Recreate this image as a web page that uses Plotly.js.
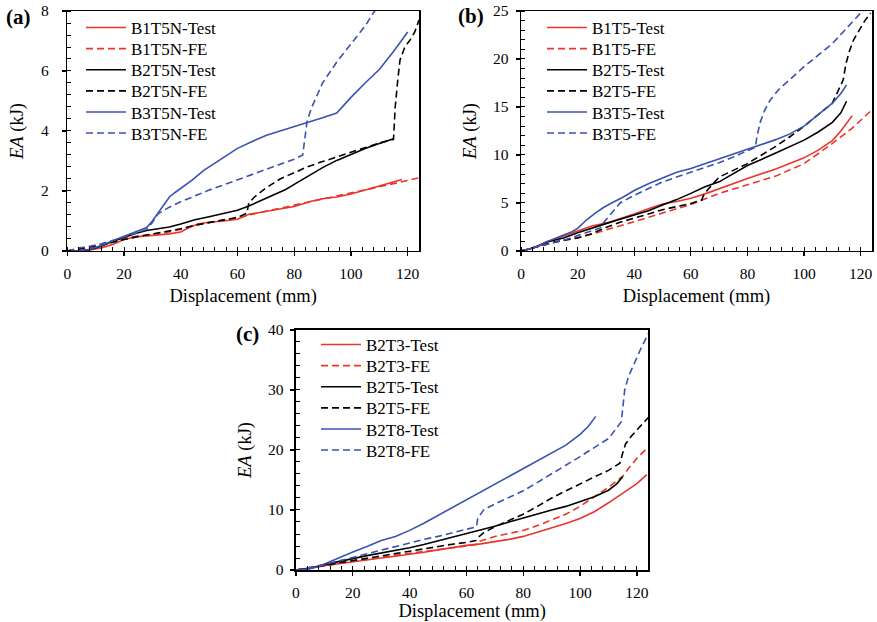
<!DOCTYPE html>
<html>
<head>
<meta charset="utf-8">
<script src="https://cdn.plot.ly/plotly-3.0.1.min.js"></script>
<style>html,body{margin:0;padding:0;background:#fff;}#chart{width:877px;height:622px;}</style>
</head>
<body>
<div id="chart"></div>
<script>
// ---------- Panel (a) ----------
const aB1T5N_Test_x = [0,4,8,12,16,20,24,28,32,36,40,43,46,50,55,60,64,70,75,80,86,90,95,100,105,110,115,118];
const aB1T5N_Test_y = [0,0,0.03,0.1,0.22,0.38,0.47,0.5,0.54,0.57,0.63,0.78,0.9,0.96,1.0,1.06,1.22,1.32,1.38,1.48,1.66,1.74,1.8,1.9,2.03,2.16,2.3,2.38];
const aB1T5N_FE_x = [0,4,8,12,16,20,25,30,35,40,45,50,55,60,64,70,80,90,100,110,120,124];
const aB1T5N_FE_y = [0,0.05,0.1,0.18,0.3,0.42,0.5,0.56,0.62,0.72,0.86,0.95,1.02,1.1,1.2,1.32,1.52,1.72,1.92,2.14,2.35,2.44];
const aB2T5N_Test_x = [0,4,8,12,16,20,24,28,32,36,40,45,50,55,60,64,70,77,80,85,90,95,100,105,110,115];
const aB2T5N_Test_y = [0,0,0.05,0.16,0.32,0.46,0.58,0.68,0.74,0.8,0.9,1.04,1.14,1.24,1.36,1.5,1.76,2.05,2.22,2.5,2.78,3.02,3.22,3.42,3.58,3.74];
const aB2T5N_FE_x = [0,4,8,12,16,20,25,30,35,40,45,50,55,60,63.3,64,66,70,75,80,85,90,95,100,105,110,115,115.6,116.5,117.3,119,120.8,122.5,124];
const aB2T5N_FE_y = [0,0.08,0.14,0.2,0.3,0.38,0.48,0.56,0.64,0.74,0.86,0.94,1.02,1.12,1.26,1.6,1.8,2.1,2.4,2.62,2.82,2.98,3.14,3.3,3.45,3.6,3.72,4.8,5.7,6.37,6.8,7.03,7.3,7.7];
const aB3T5N_Test_x = [0,4,8,12,16,20,24,28,30,32,34,36,38,40,44,48,52,56,60,65,70,75,80,85,90,95,100,105,110,115,120];
const aB3T5N_Test_y = [0,0,0.06,0.18,0.34,0.48,0.62,0.78,1.0,1.26,1.55,1.8,1.95,2.08,2.36,2.68,2.92,3.18,3.42,3.64,3.85,4.0,4.14,4.28,4.44,4.6,5.12,5.6,6.05,6.65,7.3];
const aB3T5N_FE_x = [0,4,8,12,16,20,24,28,30,32,36,40,45,50,55,60,65,70,75,80,83,83.8,84.5,86,90,95,100,105,108,110];
const aB3T5N_FE_y = [0,0.1,0.16,0.24,0.35,0.46,0.58,0.72,0.95,1.24,1.46,1.64,1.84,2.03,2.2,2.37,2.54,2.7,2.88,3.06,3.2,3.9,4.3,4.75,5.6,6.3,6.92,7.5,7.95,8.2];

// ---------- Panel (b) ----------
const bB1T5_Test_x = [0,3,6,9,12,15,20,25,30,35,40,45,50,55,60,65,70,80,90,100,105,110,113,115,117];
const bB1T5_Test_y = [0,0.2,0.55,0.95,1.25,1.55,2.1,2.6,2.9,3.35,3.85,4.4,4.9,5.15,5.5,5.95,6.5,7.55,8.55,9.7,10.5,11.5,12.5,13.3,14.1];
const bB1T5_FE_x = [0,4,8,12,16,20,25,30,35,40,45,50,55,60,64,70,80,90,100,110,117,124];
const bB1T5_FE_y = [0,0.3,0.6,0.95,1.2,1.4,1.75,2.2,2.6,3.05,3.5,3.95,4.4,4.85,5.3,6.0,6.9,7.8,9.1,11.2,12.8,14.7];
const bB2T5_Test_x = [0,3,6,9,12,15,20,25,30,35,40,45,50,55,60,65,70,80,90,100,105,110,113,115];
const bB2T5_Test_y = [0,0.2,0.5,0.9,1.15,1.35,1.9,2.4,2.85,3.3,3.75,4.2,4.8,5.35,6.0,6.7,7.2,8.9,10.2,11.55,12.4,13.4,14.4,15.6];
const bB2T5_FE_x = [0,4,8,12,16,20,25,30,35,40,45,50,55,60,63.8,64.5,66,70,75,80,85,90,95,100,105,110,113.8,114.8,116,117.5,119.5,121.5,123.5];
const bB2T5_FE_y = [0,0.3,0.6,0.95,1.15,1.35,1.8,2.45,3.0,3.4,3.85,4.3,4.6,4.95,5.3,5.8,6.4,7.7,8.4,9.1,10.0,10.9,11.9,13.0,14.2,15.4,17.8,19.5,20.8,22,23,24,24.8];
const bB3T5_Test_x = [0,3,6,9,12,15,18,20,23,26,29,32,36,40,45,50,55,60,65,70,75,80,85,90,95,100,105,110,113,115];
const bB3T5_Test_y = [0,0.2,0.5,0.95,1.3,1.65,2.0,2.35,3.2,3.9,4.5,5.0,5.6,6.3,7.0,7.6,8.2,8.6,9.1,9.6,10.1,10.65,11.15,11.6,12.2,13.0,14.2,15.4,16.4,17.3];
const bB3T5_FE_x = [0,4,8,12,16,20,24,28,29,31,35,40,45,50,55,60,65,70,75,80,82.8,83.4,84.5,86,88,91,95,100,105,110,115,120,123];
const bB3T5_FE_y = [0,0.3,0.6,0.9,1.2,1.6,2.0,2.4,2.9,3.6,5.0,5.8,6.5,7.2,7.7,8.2,8.7,9.2,9.8,10.4,10.8,12.0,13.4,14.6,15.7,16.8,17.9,19.2,20.4,21.6,23.2,24.8,25.6];

// ---------- Panel (c) ----------
const cB2T3_Test_x = [0,5,10,15,20,25,30,35,40,45,50,55,60,65,70,75,80,85,90,95,100,105,110,115,120,123.5];
const cB2T3_Test_y = [0,0.3,0.7,1.05,1.4,1.7,2.0,2.3,2.6,2.95,3.35,3.75,4.1,4.35,4.7,5.1,5.6,6.3,7.0,7.75,8.6,9.7,11.2,12.8,14.4,15.9];
const cB2T3_FE_x = [0,5,10,15,20,25,30,35,40,45,50,55,60,63.3,64,67,70,75,80,85,90,95,100,105,110,115,117,120,124];
const cB2T3_FE_y = [0,0.3,0.7,1.1,1.45,1.8,2.1,2.45,2.8,3.1,3.4,3.7,4.0,4.2,4.7,5.2,5.6,6.1,6.6,7.4,8.3,9.3,10.6,12.2,13.8,15.6,16.9,18.6,20.5];
const cB2T5_Test_x = [0,5,10,15,20,25,30,35,40,45,50,55,60,65,70,75,80,85,90,95,100,105,110,113,115];
const cB2T5_Test_y = [0,0.3,0.9,1.35,1.9,2.4,2.8,3.2,3.7,4.25,4.85,5.45,6.1,6.75,7.3,8.0,8.7,9.4,10.0,10.6,11.4,12.2,13.3,14.4,15.6];
const cB2T5_FE_x = [0,5,10,15,20,25,30,35,40,45,50,55,60,63.3,64,66,70,75,80,85,90,95,100,105,110,114,115,116,118,120,124];
const cB2T5_FE_y = [0,0.4,0.8,1.2,1.6,2.0,2.4,2.8,3.2,3.55,3.9,4.3,4.6,4.9,5.4,6.2,7.2,8.2,9.3,10.6,12.0,13.2,14.4,15.5,16.6,17.8,19.5,21.0,22.3,23.3,25.4];
const cB2T8_Test_x = [0,5,8,10,12,15,20,25,30,35,40,45,50,55,60,65,70,75,80,85,90,95,100,103,105.5];
const cB2T8_Test_y = [0,0.2,0.6,1.0,1.5,2.1,3.0,3.9,4.9,5.6,6.6,7.8,9.1,10.4,11.7,13.0,14.3,15.6,16.8,18.1,19.4,20.8,22.6,24.0,25.6];
const cB2T8_FE_x = [0,5,10,15,20,25,30,35,40,45,50,55,60,63.5,64,66,70,75,80,85,90,95,100,105,110,114.5,115,115.7,117,119,121,124];
const cB2T8_FE_y = [0,0.4,0.9,1.5,2.1,2.7,3.3,3.9,4.6,5.1,5.6,6.2,6.7,7.2,8.6,10.0,11.0,12.1,13.2,14.6,16.0,17.4,18.9,20.4,21.9,24.7,27.5,30.0,32.2,34.5,36.5,39.4];

const RED = '#e8362c', BLACK = '#000000', BLUE = '#3a52b0';
const DASH = '7px,4px';
const FONT = 'serif';

const W = 877, H = 622;
const panelLegendX = [81, 542, 316];
const panelLegendY0 = [28, 28, 345];
const ROW = 21.1;

let legendCount = 0;
const legends = {};
function tr(name, x, y, color, dashed, xa, ya, panel, row) {
  legendCount += 1;
  const key = legendCount === 1 ? 'legend' : 'legend' + legendCount;
  legends[key] = {
    x: panelLegendX[panel] / W, y: 1 - (panelLegendY0[panel] + ROW * row) / H,
    xref:'paper', yref:'paper', xanchor:'left', yanchor:'middle',
    bgcolor:'rgba(0,0,0,0)', borderwidth:0, itemwidth:40,
    font:{family:FONT, size:17, color:'#000'}
  };
  return {type:'scatter', mode:'lines', name:name, x:x, y:y, xaxis:xa, yaxis:ya, legend:key,
          line:{color:color, width:1.6, dash: dashed ? DASH : 'solid'}};
}

const data = [
  tr('B1T5N-Test', aB1T5N_Test_x, aB1T5N_Test_y, RED, false, 'x', 'y', 0, 0),
  tr('B1T5N-FE', aB1T5N_FE_x, aB1T5N_FE_y, RED, true, 'x', 'y', 0, 1),
  tr('B2T5N-Test', aB2T5N_Test_x, aB2T5N_Test_y, BLACK, false, 'x', 'y', 0, 2),
  tr('B2T5N-FE', aB2T5N_FE_x, aB2T5N_FE_y, BLACK, true, 'x', 'y', 0, 3),
  tr('B3T5N-Test', aB3T5N_Test_x, aB3T5N_Test_y, BLUE, false, 'x', 'y', 0, 4),
  tr('B3T5N-FE', aB3T5N_FE_x, aB3T5N_FE_y, BLUE, true, 'x', 'y', 0, 5),

  tr('B1T5-Test', bB1T5_Test_x, bB1T5_Test_y, RED, false, 'x2', 'y2', 1, 0),
  tr('B1T5-FE', bB1T5_FE_x, bB1T5_FE_y, RED, true, 'x2', 'y2', 1, 1),
  tr('B2T5-Test', bB2T5_Test_x, bB2T5_Test_y, BLACK, false, 'x2', 'y2', 1, 2),
  tr('B2T5-FE', bB2T5_FE_x, bB2T5_FE_y, BLACK, true, 'x2', 'y2', 1, 3),
  tr('B3T5-Test', bB3T5_Test_x, bB3T5_Test_y, BLUE, false, 'x2', 'y2', 1, 4),
  tr('B3T5-FE', bB3T5_FE_x, bB3T5_FE_y, BLUE, true, 'x2', 'y2', 1, 5),

  tr('B2T3-Test', cB2T3_Test_x, cB2T3_Test_y, RED, false, 'x3', 'y3', 2, 0),
  tr('B2T3-FE', cB2T3_FE_x, cB2T3_FE_y, RED, true, 'x3', 'y3', 2, 1),
  tr('B2T5-Test', cB2T5_Test_x, cB2T5_Test_y, BLACK, false, 'x3', 'y3', 2, 2),
  tr('B2T5-FE', cB2T5_FE_x, cB2T5_FE_y, BLACK, true, 'x3', 'y3', 2, 3),
  tr('B2T8-Test', cB2T8_Test_x, cB2T8_Test_y, BLUE, false, 'x3', 'y3', 2, 4),
  tr('B2T8-FE', cB2T8_FE_x, cB2T8_FE_y, BLUE, true, 'x3', 'y3', 2, 5)
];

function xax(domain, anchor) {
  return {domain:domain, anchor:anchor, range:[0,124], tick0:0, dtick:20,
    ticks:'outside', ticklen:4, tickwidth:1.2, tickcolor:'#000',
    minor:{dtick:4, tick0:0, ticks:'inside', ticklen:4, tickwidth:1, tickcolor:'#000'},
    showline:true, linecolor:'#000', linewidth:1.5, mirror:true,
    showgrid:false, zeroline:false, ticklabelstandoff:4,
    tickfont:{family:FONT, size:15.5, color:'#000'},
    title:{text:'Displacement (mm)', standoff:8, font:{family:FONT, size:18.5, color:'#000'}}};
}
function yax(domain, anchor, range, dtick, minor, stand, tstand) {
  return {domain:domain, anchor:anchor, range:range, tick0:0, dtick:dtick,
    ticks:'outside', ticklen:4, tickwidth:1.2, tickcolor:'#000',
    minor:{dtick:minor, tick0:0, ticks:'inside', ticklen:4, tickwidth:1, tickcolor:'#000'},
    showline:true, linecolor:'#000', linewidth:1.5, mirror:true,
    showgrid:false, zeroline:false, ticklabelstandoff:stand,
    tickfont:{family:FONT, size:15.5, color:'#000'},
    title:{text:'<i>EA</i> (kJ)', standoff:tstand, font:{family:FONT, size:18.5, color:'#000'}}};
}

const layout = Object.assign({
  width:W, height:H, margin:{l:0, r:0, t:0, b:0},
  paper_bgcolor:'#fff', plot_bgcolor:'#fff', showlegend:true,
  font:{family:FONT, color:'#000'},
  xaxis: xax([0.0767, 0.4778], 'y'),
  yaxis: yax([0.5965, 0.9823], 'x', [0,8], 2, 0.4, 10, 12),
  xaxis2: xax([0.5941, 0.9943], 'y2'),
  yaxis2: yax([0.5965, 0.9823], 'x2', [0,25], 5, 1, 4, 11),
  xaxis3: xax([0.3375, 0.7392], 'y3'),
  yaxis3: yax([0.0836, 0.4695], 'x3', [0,40], 10, 2, 4, 11),
  annotations:[
    {text:'<b>(a)</b>', x:4/W, y:1-17/H, xref:'paper', yref:'paper', xanchor:'left', yanchor:'middle', showarrow:false, font:{family:FONT, size:21, color:'#000'}},
    {text:'<b>(b)</b>', x:456/W, y:1-16/H, xref:'paper', yref:'paper', xanchor:'left', yanchor:'middle', showarrow:false, font:{family:FONT, size:21, color:'#000'}},
    {text:'<b>(c)</b>', x:234/W, y:1-334/H, xref:'paper', yref:'paper', xanchor:'left', yanchor:'middle', showarrow:false, font:{family:FONT, size:21, color:'#000'}}
  ]
}, legends);

Plotly.newPlot('chart', data, layout, {staticPlot:true, displayModeBar:false});
</script>
</body>
</html>
